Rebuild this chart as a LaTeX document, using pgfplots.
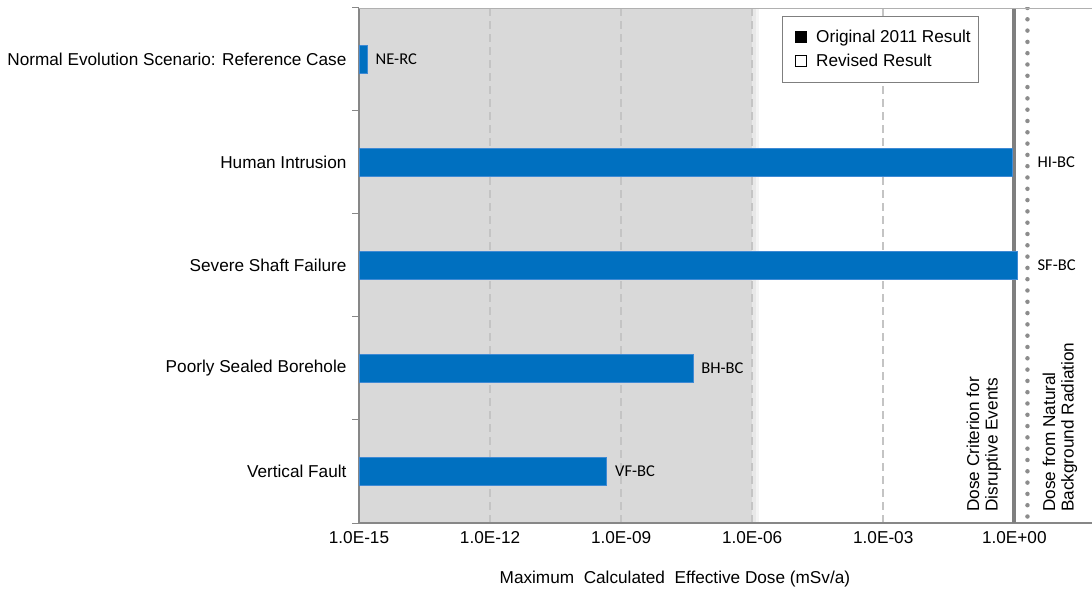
\documentclass[border=0pt]{standalone}
\usepackage{pgfplots}
\pgfplotsset{compat=1.18}
\usepackage{fontspec}
\setmainfont{Liberation Sans}
\newfontfamily\calibri{Carlito}

\definecolor{barblue}{HTML}{0070C0}
\definecolor{baredge}{HTML}{3F8AD4}
\definecolor{shadegray}{HTML}{D9D9D9}
\definecolor{gridgray}{HTML}{C4C4C4}
\definecolor{axisgray}{HTML}{878787}
\definecolor{refgray}{HTML}{7F7F7F}
\definecolor{dotgray}{HTML}{8C8C8C}
\definecolor{topgray}{HTML}{B0B0B0}

\newcommand{\lblfont}{\fontsize{17.2}{19}\selectfont}

\begin{document}
\begin{tikzpicture}
\begin{axis}[
  at={(0,0)}, anchor=south west,
  scale only axis, width=733pt, height=515pt,
  set layers,
  xmode=log, xmin=1e-15, xmax=60, log origin=infty,
  ymin=-0.5, ymax=4.5,
  axis x line*=bottom, axis y line*=left,
  axis line style={-, draw=axisgray, line width=1.3pt},
  xtick={1e-15,1e-12,1e-9,1e-6,1e-3,1},
  xticklabels={1.0E-15,1.0E-12,1.0E-09,1.0E-06,1.0E-03,1.0E+00},
  xmajorgrids,
  grid style={gridgray, line width=1.6pt, dash pattern=on 8pt off 5pt},
  ytick={0,1,2,3,4},
  yticklabels={Vertical Fault, Poorly Sealed Borehole, Severe Shaft Failure,
               Human Intrusion, Normal Evolution Scenario: Reference Case},
  minor ytick={-0.5,0.5,1.5,2.5,3.5,4.5},
  major tick length=0pt, minor tick length=7pt, tick align=outside,
  minor tick style={axisgray, line width=1pt},
  ticklabel style={font=\lblfont},
  xticklabel style={yshift=-5pt},
  yticklabel style={xshift=-9pt},
  xlabel={Maximum\ \ Calculated\ \ Effective Dose (mSv/a)},
  xlabel style={at={(axis description cs:0.431,0)}, anchor=base, yshift=-60pt, font=\lblfont},
  legend style={at={(0.577,0.9845)}, anchor=north west, draw=refgray, line width=0.8pt,
                font=\lblfont, inner xsep=8pt, inner ysep=11pt, row sep=4pt, column sep=9pt,
                nodes={inner xsep=0pt, inner ysep=3pt}},
  legend cell align=left,
  legend image code/.code={\path (-5pt,0pt); \draw[#1, line width=0.8pt] (0pt,-5pt) rectangle (11pt,6pt);},
]
\addlegendimage{fill=black, draw=black}
\addlegendentry{Original 2011 Result}
\addlegendimage{fill=white, draw=black}
\addlegendentry{Revised Result}

% background band below 1E-06 with a soft right edge
\addplot[draw=none, fill=shadegray, on layer=axis background, forget plot]
  coordinates {(1e-15,-0.5) (1e-6,-0.5) (1e-6,4.5) (1e-15,4.5)};
\addplot[draw=none, fill=shadegray, fill opacity=0.6, on layer=axis background, forget plot]
  coordinates {(1e-6,-0.5) (1.2e-6,-0.5) (1.2e-6,4.5) (1e-6,4.5)};
\addplot[draw=none, fill=shadegray, fill opacity=0.3, on layer=axis background, forget plot]
  coordinates {(1.2e-6,-0.5) (1.45e-6,-0.5) (1.45e-6,4.5) (1.2e-6,4.5)};

% reference doses
\addplot[refgray, line width=4pt, forget plot] coordinates {(1,-0.5) (1,4.5)};
\addplot[dotgray, line width=4.5pt, line cap=round, dash pattern=on 0pt off 11.3pt, forget plot]
  coordinates {(2,4.5) (2,-0.5)};

% case results
\addplot[xbar, bar shift=0pt, bar width=0.27, fill=barblue, draw=baredge, line width=0.8pt,
  forget plot, nodes near coords, point meta=explicit symbolic,
  nodes near coords style={anchor=west, inner sep=0pt, xshift=8pt, font=\calibri\fontsize{16.5}{19}\selectfont, text=black}]
  coordinates {(4.7e-10,0) [VF-BC] (4.4e-8,1) [BH-BC] (1.55e-15,4) [NE-RC]};
\addplot[xbar, bar shift=0pt, bar width=0.27, fill=barblue, draw=baredge, line width=0.8pt, forget plot]
  coordinates {(0.9,3) (1.17,2)};
\addplot[draw=none, mark=none, forget plot, nodes near coords, point meta=explicit symbolic,
  nodes near coords style={anchor=west, inner sep=0pt, xshift=10pt, font=\calibri\fontsize{16.5}{19}\selectfont, text=black}]
  coordinates {(2,3) [HI-BC] (2,2) [SF-BC]};

\draw[topgray, line width=0.9pt] (rel axis cs:0,1) -- (rel axis cs:1,1);
\node[rotate=90, anchor=south west, align=left, inner sep=0pt, font=\fontsize{17.2}{18.5}\selectfont]
  at ([xshift=-13pt, yshift=11pt]axis cs:1,-0.5) {Dose Criterion for\\Disruptive Events};
\node[rotate=90, anchor=north west, align=left, inner sep=0pt, font=\fontsize{17.2}{18.5}\selectfont]
  at ([xshift=15pt, yshift=11pt]axis cs:2,-0.5) {Dose from Natural\\Background Radiation};
\end{axis}
\pgfresetboundingbox
\path[use as bounding box] (-359pt,-66pt) rectangle (733pt,523pt);
\end{tikzpicture}
\end{document}
